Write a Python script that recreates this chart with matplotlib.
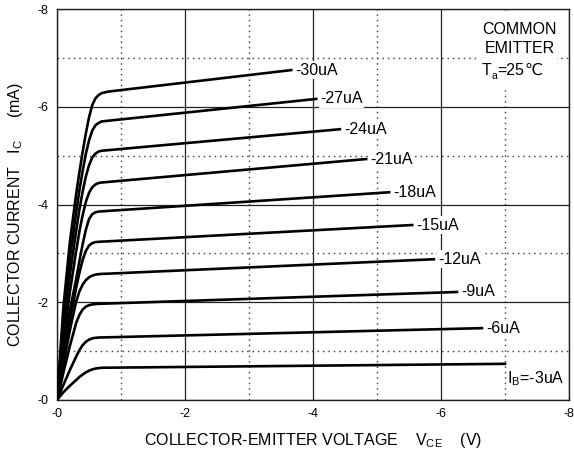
import matplotlib
matplotlib.use("Agg")
import matplotlib.pyplot as plt
import numpy as np
from matplotlib.patches import Rectangle

plt.rcParams['font.family'] = ['Liberation Sans', 'DejaVu Sans']
plt.rcParams['mathtext.default'] = 'regular'

# base current of each curve and its label
IB_LABELS = ["I$_B$=-3uA", "-6uA", "-9uA", "-12uA", "-15uA",
             "-18uA", "-21uA", "-24uA", "-27uA", "-30uA"]

# knee region, VCE magnitude (V) shared by all curves
VCE_KNEE = [0, 0.1, 0.2, 0.3, 0.35, 0.4, 0.45, 0.5, 0.55, 0.6, 0.65, 0.7, 0.8]

# collector current magnitude (mA) read at VCE_KNEE, one row per curve
IC_KNEE = [
    [0, 0.16, 0.29, 0.41, 0.47, 0.52, 0.565, 0.60, 0.625, 0.643, 0.653, 0.66, 0.661],
    [0, 0.31, 0.61, 0.89, 1.02, 1.12, 1.19, 1.235, 1.26, 1.272, 1.278, 1.28, 1.283],
    [0, 0.56, 1.10, 1.58, 1.74, 1.85, 1.91, 1.94, 1.955, 1.963, 1.967, 1.97, 1.974],
    [0, 0.72, 1.42, 2.02, 2.22, 2.36, 2.45, 2.51, 2.545, 2.565, 2.575, 2.58, 2.585],
    [0, 0.85, 1.63, 2.30, 2.60, 2.86, 3.05, 3.16, 3.21, 3.23, 3.237, 3.24, 3.247],
    [0, 0.95, 1.82, 2.48, 2.84, 3.18, 3.48, 3.70, 3.80, 3.84, 3.855, 3.86, 3.869],
    [0, 1.15, 2.20, 3.05, 3.45, 3.78, 4.05, 4.24, 4.35, 4.41, 4.44, 4.45, 4.462],
    [0, 1.39, 2.55, 3.47, 3.90, 4.26, 4.57, 4.80, 4.96, 5.04, 5.085, 5.10, 5.112],
    [0, 1.64, 2.89, 3.85, 4.29, 4.68, 5.03, 5.31, 5.51, 5.62, 5.67, 5.70, 5.714],
    [0, 1.90, 3.22, 4.22, 4.66, 5.07, 5.45, 5.78, 6.03, 6.17, 6.24, 6.28, 6.31],
]

# end point of each curve
VCE_END = [7.00, 6.64, 6.25, 5.89, 5.55, 5.19, 4.83, 4.42, 4.05, 3.66]
IC_END = [0.74, 1.47, 2.21, 2.88, 3.58, 4.25, 4.93, 5.54, 6.16, 6.75]

TICKS = [0, -2, -4, -6, -8]
TICK_LABELS = ["-0", "-2", "-4", "-6", "-8"]

fig = plt.figure(figsize=(5.74, 4.57), dpi=100)
ax = fig.add_axes([57 / 574, 57 / 457, 512 / 574, 391 / 457])

for i in range(len(IB_LABELS)):
    v = -np.array(VCE_KNEE + [VCE_END[i]])
    c = -np.array(IC_KNEE[i] + [IC_END[i]])
    ax.plot(v, c, color='black', lw=1.9, solid_joinstyle='round', zorder=3)
    if i == 0:
        ax.annotate(IB_LABELS[i], (v[-1], c[-1]), xytext=(1.5, -4),
                    textcoords='offset points', ha='left', va='top',
                    fontsize=11.5, zorder=4)
    else:
        ax.annotate(IB_LABELS[i], (v[-1], c[-1]), xytext=(3, 0),
                    textcoords='offset points', ha='left', va='center',
                    fontsize=11.5, zorder=4,
                    bbox=dict(facecolor='white', edgecolor='none', pad=1))

ax.set_xlim(0, -8)
ax.set_ylim(0, -8)
ax.set_xticks(TICKS)
ax.set_xticklabels(TICK_LABELS)
ax.set_yticks(TICKS)
ax.set_yticklabels(TICK_LABELS)
ax.set_xticks([-1, -3, -5, -7], minor=True)
ax.set_yticks([-1, -3, -5, -7], minor=True)
ax.tick_params(which='both', length=0, labelsize=9, pad=6)
ax.grid(which='major', ls='-', color='#222222', lw=0.9)
ax.grid(which='minor', ls=(0, (1.1, 2.8)), color='#444444', lw=1.0)
for s in ax.spines.values():
    s.set_linewidth(1.0)
    s.set_color('#222222')

# white panel behind the conditions note
ax.add_patch(Rectangle((0.822, 0.798), 0.155, 0.198, transform=ax.transAxes,
                       facecolor='white', edgecolor='none', zorder=2))
ax.text(0.904, 0.936, "COMMON", transform=ax.transAxes, ha='center',
        va='baseline', fontsize=11.5, zorder=4)
ax.text(0.904, 0.887, "EMITTER", transform=ax.transAxes, ha='center',
        va='baseline', fontsize=11.5, zorder=4)

fig.text(313 / 574, 1 - 441 / 457,
         "COLLECTOR-EMITTER VOLTAGE    V$_{CE}$    (V)",
         ha='center', va='center', fontsize=11.5)
fig.text(16 / 574, 1 - 215 / 457,
         "COLLECTOR CURRENT   I$_C$     (mA)",
         ha='center', va='center', rotation=90, fontsize=11.5)

# "Ta=25℃" written piece by piece so the subscript and the ℃ sign line up
renderer = fig.canvas.get_renderer()
x = 0.830
for piece, size, base, fam in [("T", 11.5, 0.831, None),
                               ("a", 7.5, 0.822, None),
                               ("=25", 11.5, 0.831, None),
                               ("℃", 11.5, 0.831, 'DejaVu Sans')]:
    t = ax.text(x, base, piece, transform=ax.transAxes, ha='left',
                va='baseline', fontsize=size, zorder=4)
    if fam:
        t.set_family(fam)
    bb = t.get_window_extent(renderer)
    x = ax.transAxes.inverted().transform((bb.x1, bb.y0))[0]

fig.savefig("out.png", dpi=100)
